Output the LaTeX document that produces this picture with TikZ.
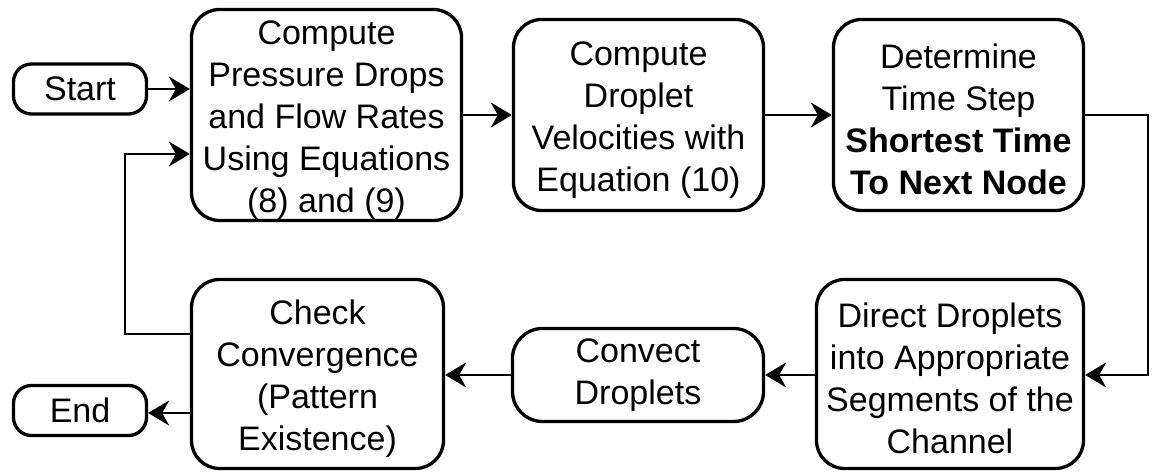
\documentclass[tikz,border=0pt]{standalone}
\usepackage{fontspec}
\setmainfont{Liberation Sans}
\usetikzlibrary{arrows.meta}
\newcommand{\topstrut}{\rule{0pt}{17pt}}
\begin{document}
\begin{tikzpicture}[x=0.5pt,y=-0.5pt,
  box/.style={draw, line width=1.65pt, rounded corners=14pt, align=center, inner sep=0pt,
    font=\fontsize{17}{21}\selectfont},
  term/.style={box, rounded corners=9pt, minimum width=66.5pt, minimum height=25pt},
  conn/.style={line width=1.35pt, -{Stealth[length=10.5pt,width=12.5pt,inset=3.5pt]}}]
\useasboundingbox (0,0) rectangle (1153,475);

\node[term] (start) at (80,89) {Start};
\node[box, minimum width=135pt, minimum height=105.5pt] (b1) at (326.5,115)
  {\topstrut Compute\\Pressure Drops\\and Flow Rates\\Using Equations\\(8) and (9)};
\node[box, minimum width=125pt, minimum height=95.5pt] (b2) at (638.5,115)
  {\topstrut Compute\\Droplet\\Velocities with\\Equation (10)};
\node[box, minimum width=125pt, minimum height=95.5pt] (b3) at (958.5,115)
  {\topstrut Determine\\Time Step\\\textbf{Shortest Time}\\\textbf{To Next Node}};
\node[box, minimum width=133.5pt, minimum height=94.5pt] (b4) at (950,374)
  {\topstrut Direct Droplets\\into Appropriate\\Segments of the\\Channel};
\node[box, rounded corners=15pt, minimum width=125.5pt, minimum height=46.5pt] (b5) at (638,375)
  {Convect\\Droplets};
\node[box, minimum width=126pt, minimum height=94.5pt] (b6) at (317.5,374)
  {\topstrut Check\\Convergence\\(Pattern\\Existence)};
\node[term] (end) at (80,410.5) {End};

\coordinate (l1) at (125,334);
\coordinate (l2) at (125,154);
\coordinate (r1) at (1148,115);
\coordinate (r2) at (1148,375);

\draw[conn] (start.east) -- (start.east -| b1.west);
\draw[conn] (b1.east) -- (b1.east -| b2.west);
\draw[conn] (b2.east) -- (b2.east -| b3.west);
\draw[conn] (b3.east) -- (r1) -- (r2) -- (b4.east |- r2);
\draw[conn] (b4.west |- r2) -- (b5.east |- r2);
\draw[conn] (b5.west) -- (b5.west -| b6.east);
\draw[conn] (b6.west |- 0,413) -- (end.east |- 0,413);
\draw[conn] (b6.west |- l1) -- (l1) -- (l2) -- (b1.west |- l2);
\end{tikzpicture}
\end{document}
